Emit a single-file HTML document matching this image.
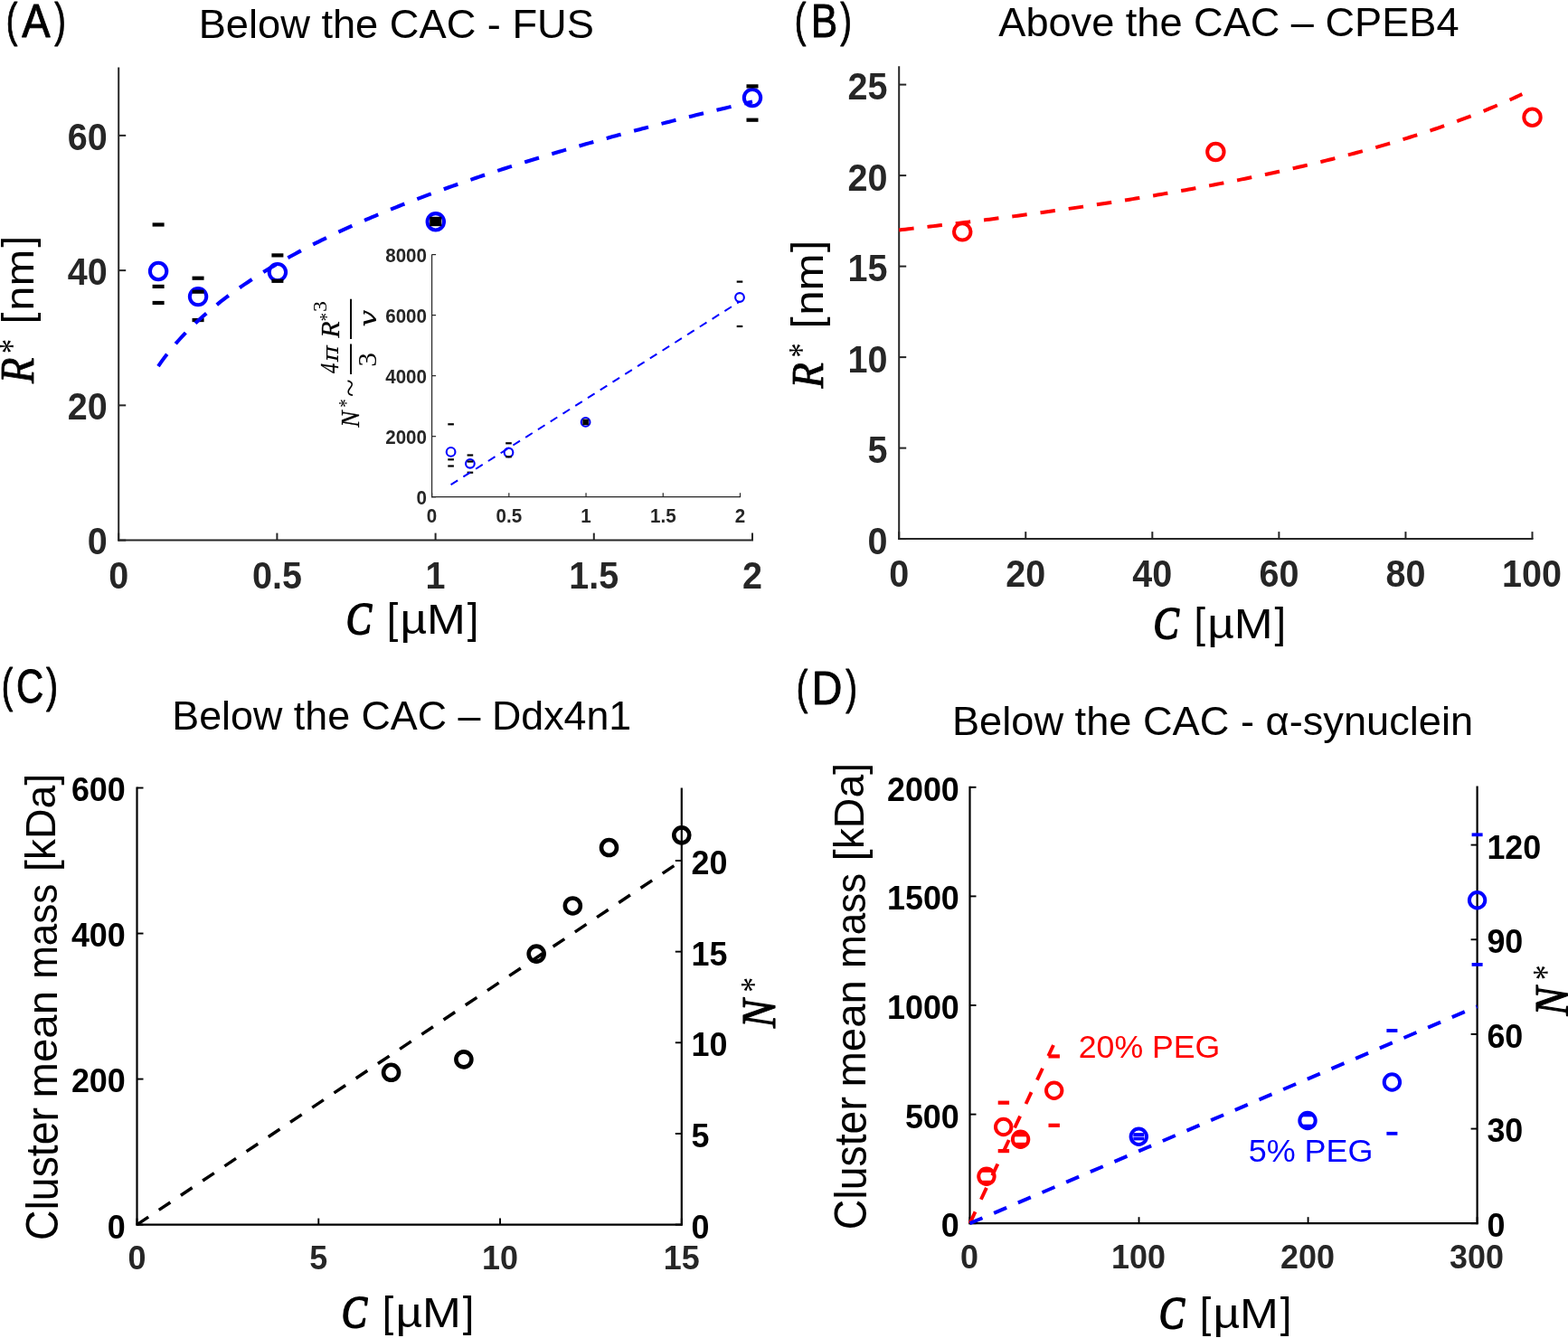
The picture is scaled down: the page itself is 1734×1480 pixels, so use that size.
<!DOCTYPE html>
<html><head><meta charset="utf-8"><title>figure</title>
<style>html,body{margin:0;padding:0;background:#fff}svg{display:block}</style></head>
<body>
<svg width="1734" height="1480" viewBox="0 0 1734 1480">
<rect width="1734" height="1480" fill="#fff"/>
<line x1="131.20" y1="74.50" x2="131.20" y2="598.60" stroke="#262626" stroke-width="2" />
<line x1="130.20" y1="597.60" x2="833.00" y2="597.60" stroke="#262626" stroke-width="2" />
<line x1="131.20" y1="597.60" x2="131.20" y2="589.60" stroke="#262626" stroke-width="2" />
<line x1="306.40" y1="597.60" x2="306.40" y2="589.60" stroke="#262626" stroke-width="2" />
<line x1="481.60" y1="597.60" x2="481.60" y2="589.60" stroke="#262626" stroke-width="2" />
<line x1="656.80" y1="597.60" x2="656.80" y2="589.60" stroke="#262626" stroke-width="2" />
<line x1="832.00" y1="597.60" x2="832.00" y2="589.60" stroke="#262626" stroke-width="2" />
<line x1="131.20" y1="597.60" x2="139.20" y2="597.60" stroke="#262626" stroke-width="2" />
<text transform="translate(118.60,613.40) scale(1.0,1.06)" text-anchor="end" font-family='"Liberation Sans", sans-serif' font-weight="bold" font-size="39.5" fill="#262626">0</text>
<line x1="131.20" y1="448.36" x2="139.20" y2="448.36" stroke="#262626" stroke-width="2" />
<text transform="translate(118.60,464.16) scale(1.0,1.06)" text-anchor="end" font-family='"Liberation Sans", sans-serif' font-weight="bold" font-size="39.5" fill="#262626">20</text>
<line x1="131.20" y1="299.12" x2="139.20" y2="299.12" stroke="#262626" stroke-width="2" />
<text transform="translate(118.60,314.92) scale(1.0,1.06)" text-anchor="end" font-family='"Liberation Sans", sans-serif' font-weight="bold" font-size="39.5" fill="#262626">40</text>
<line x1="131.20" y1="149.88" x2="139.20" y2="149.88" stroke="#262626" stroke-width="2" />
<text transform="translate(118.60,165.68) scale(1.0,1.06)" text-anchor="end" font-family='"Liberation Sans", sans-serif' font-weight="bold" font-size="39.5" fill="#262626">60</text>
<text transform="translate(131.20,651.20) scale(1.0,1.06)" text-anchor="middle" font-family='"Liberation Sans", sans-serif' font-weight="bold" font-size="39.5" fill="#262626">0</text>
<text transform="translate(306.40,651.20) scale(1.0,1.06)" text-anchor="middle" font-family='"Liberation Sans", sans-serif' font-weight="bold" font-size="39.5" fill="#262626">0.5</text>
<text transform="translate(481.60,651.20) scale(1.0,1.06)" text-anchor="middle" font-family='"Liberation Sans", sans-serif' font-weight="bold" font-size="39.5" fill="#262626">1</text>
<text transform="translate(656.80,651.20) scale(1.0,1.06)" text-anchor="middle" font-family='"Liberation Sans", sans-serif' font-weight="bold" font-size="39.5" fill="#262626">1.5</text>
<text transform="translate(832.00,651.20) scale(1.0,1.06)" text-anchor="middle" font-family='"Liberation Sans", sans-serif' font-weight="bold" font-size="39.5" fill="#262626">2</text>
<circle cx="175.10" cy="300.00" r="9.2" fill="none" stroke="#0000ff" stroke-width="4.05"/>
<circle cx="219.05" cy="328.10" r="9.2" fill="none" stroke="#0000ff" stroke-width="4.05"/>
<circle cx="306.90" cy="301.10" r="9.2" fill="none" stroke="#0000ff" stroke-width="4.05"/>
<circle cx="481.80" cy="245.30" r="9.2" fill="none" stroke="#0000ff" stroke-width="4.05"/>
<circle cx="832.00" cy="108.10" r="9.2" fill="none" stroke="#0000ff" stroke-width="4.05"/>
<rect x="168.60" y="246.40" width="13" height="4.2" fill="#000"/>
<rect x="168.60" y="314.80" width="13" height="4.2" fill="#000"/>
<rect x="168.60" y="332.90" width="13" height="4.2" fill="#000"/>
<rect x="212.55" y="305.60" width="13" height="4.2" fill="#000"/>
<rect x="212.55" y="320.60" width="13" height="4.2" fill="#000"/>
<rect x="212.55" y="351.95" width="13" height="4.2" fill="#000"/>
<rect x="300.40" y="280.30" width="13" height="4.2" fill="#000"/>
<rect x="300.40" y="308.70" width="13" height="4.2" fill="#000"/>
<rect x="825.50" y="93.30" width="13" height="4.2" fill="#000"/>
<rect x="825.50" y="130.60" width="13" height="4.2" fill="#000"/>
<rect x="475.2" y="239.8" width="13.1" height="10.4" fill="#000"/>
<path d="M175.00,405.08 L178.28,400.38 L181.57,395.90 L184.85,391.61 L188.14,387.49 L191.42,383.52 L194.71,379.70 L197.99,376.00 L201.28,372.43 L204.56,368.96 L207.85,365.60 L211.13,362.33 L214.42,359.15 L217.70,356.06 L220.99,353.04 L224.27,350.09 L227.56,347.21 L230.84,344.40 L234.13,341.64 L237.41,338.95 L240.70,336.31 L243.98,333.72 L247.27,331.19 L250.55,328.70 L253.84,326.25 L257.12,323.85 L260.41,321.49 L263.69,319.17 L266.98,316.89 L270.26,314.64 L273.55,312.43 L276.83,310.25 L280.12,308.11 L283.40,306.00 L286.69,303.91 L289.97,301.86 L293.26,299.83 L296.54,297.84 L299.83,295.86 L303.12,293.92 L306.40,291.99 L309.68,290.10 L312.97,288.22 L316.25,286.37 L319.54,284.54 L322.82,282.73 L326.11,280.94 L329.39,279.17 L332.68,277.42 L335.96,275.69 L339.25,273.98 L342.53,272.28 L345.82,270.61 L349.10,268.95 L352.39,267.30 L355.67,265.68 L358.96,264.06 L362.25,262.47 L365.53,260.89 L368.81,259.32 L372.10,257.77 L375.38,256.23 L378.67,254.71 L381.95,253.20 L385.24,251.70 L388.52,250.22 L391.81,248.74 L395.09,247.28 L398.38,245.84 L401.66,244.40 L404.95,242.98 L408.23,241.56 L411.52,240.16 L414.80,238.77 L418.09,237.39 L421.37,236.02 L424.66,234.66 L427.94,233.31 L431.23,231.97 L434.51,230.64 L437.80,229.32 L441.08,228.01 L444.37,226.71 L447.65,225.42 L450.94,224.14 L454.22,222.86 L457.51,221.59 L460.79,220.34 L464.08,219.09 L467.36,217.85 L470.65,216.61 L473.94,215.39 L477.22,214.17 L480.50,212.96 L483.79,211.76 L487.07,210.57 L490.36,209.38 L493.64,208.20 L496.93,207.03 L500.21,205.86 L503.50,204.70 L506.78,203.55 L510.07,202.40 L513.36,201.26 L516.64,200.13 L519.92,199.01 L523.21,197.89 L526.50,196.77 L529.78,195.67 L533.07,194.56 L536.35,193.47 L539.63,192.38 L542.92,191.30 L546.20,190.22 L549.49,189.15 L552.77,188.08 L556.06,187.02 L559.35,185.96 L562.63,184.91 L565.91,183.87 L569.20,182.83 L572.48,181.79 L575.77,180.77 L579.05,179.74 L582.34,178.72 L585.62,177.71 L588.91,176.70 L592.19,175.69 L595.48,174.69 L598.76,173.70 L602.05,172.71 L605.33,171.72 L608.62,170.74 L611.90,169.76 L615.19,168.79 L618.47,167.82 L621.76,166.86 L625.04,165.90 L628.33,164.95 L631.62,164.00 L634.90,163.05 L638.18,162.11 L641.47,161.17 L644.75,160.23 L648.04,159.30 L651.33,158.38 L654.61,157.45 L657.89,156.53 L661.18,155.62 L664.46,154.71 L667.75,153.80 L671.03,152.90 L674.32,152.00 L677.61,151.10 L680.89,150.21 L684.17,149.32 L687.46,148.43 L690.74,147.55 L694.03,146.67 L697.32,145.79 L700.60,144.92 L703.88,144.05 L707.17,143.19 L710.45,142.33 L713.74,141.47 L717.02,140.61 L720.31,139.76 L723.60,138.91 L726.88,138.06 L730.16,137.22 L733.45,136.38 L736.73,135.54 L740.02,134.71 L743.30,133.88 L746.59,133.05 L749.88,132.22 L753.16,131.40 L756.44,130.58 L759.73,129.77 L763.01,128.95 L766.30,128.14 L769.58,127.33 L772.87,126.53 L776.15,125.73 L779.44,124.93 L782.72,124.13 L786.01,123.33 L789.30,122.54 L792.58,121.75 L795.87,120.97 L799.15,120.18 L802.43,119.40 L805.72,118.62 L809.00,117.85 L812.29,117.07 L815.58,116.30 L818.86,115.53 L822.14,114.77 L825.43,114.00 L828.71,113.24 L832.00,112.48" fill="none" stroke="#0000ff" stroke-width="4.1" stroke-dasharray="16.5 14.93" />
<line x1="477.60" y1="281.60" x2="477.60" y2="550.30" stroke="#262626" stroke-width="1.2" />
<line x1="477.00" y1="549.70" x2="819.10" y2="549.70" stroke="#262626" stroke-width="1.2" />
<line x1="477.60" y1="549.70" x2="477.60" y2="545.20" stroke="#262626" stroke-width="1.2" />
<line x1="562.83" y1="549.70" x2="562.83" y2="545.20" stroke="#262626" stroke-width="1.2" />
<line x1="648.05" y1="549.70" x2="648.05" y2="545.20" stroke="#262626" stroke-width="1.2" />
<line x1="733.27" y1="549.70" x2="733.27" y2="545.20" stroke="#262626" stroke-width="1.2" />
<line x1="818.50" y1="549.70" x2="818.50" y2="545.20" stroke="#262626" stroke-width="1.2" />
<line x1="477.60" y1="549.70" x2="482.10" y2="549.70" stroke="#262626" stroke-width="1.2" />
<text transform="translate(472.00,558.10) scale(1.0,1.06)" text-anchor="end" font-family='"Liberation Sans", sans-serif' font-weight="bold" font-size="20.6" fill="#262626">0</text>
<line x1="477.60" y1="482.68" x2="482.10" y2="482.68" stroke="#262626" stroke-width="1.2" />
<text transform="translate(472.00,491.08) scale(1.0,1.06)" text-anchor="end" font-family='"Liberation Sans", sans-serif' font-weight="bold" font-size="20.6" fill="#262626">2000</text>
<line x1="477.60" y1="415.65" x2="482.10" y2="415.65" stroke="#262626" stroke-width="1.2" />
<text transform="translate(472.00,424.05) scale(1.0,1.06)" text-anchor="end" font-family='"Liberation Sans", sans-serif' font-weight="bold" font-size="20.6" fill="#262626">4000</text>
<line x1="477.60" y1="348.62" x2="482.10" y2="348.62" stroke="#262626" stroke-width="1.2" />
<text transform="translate(472.00,357.02) scale(1.0,1.06)" text-anchor="end" font-family='"Liberation Sans", sans-serif' font-weight="bold" font-size="20.6" fill="#262626">6000</text>
<line x1="477.60" y1="281.60" x2="482.10" y2="281.60" stroke="#262626" stroke-width="1.2" />
<text transform="translate(472.00,290.00) scale(1.0,1.06)" text-anchor="end" font-family='"Liberation Sans", sans-serif' font-weight="bold" font-size="20.6" fill="#262626">8000</text>
<text transform="translate(477.60,578.20) scale(1.0,1.06)" text-anchor="middle" font-family='"Liberation Sans", sans-serif' font-weight="bold" font-size="20.6" fill="#262626">0</text>
<text transform="translate(562.83,578.20) scale(1.0,1.06)" text-anchor="middle" font-family='"Liberation Sans", sans-serif' font-weight="bold" font-size="20.6" fill="#262626">0.5</text>
<text transform="translate(648.05,578.20) scale(1.0,1.06)" text-anchor="middle" font-family='"Liberation Sans", sans-serif' font-weight="bold" font-size="20.6" fill="#262626">1</text>
<text transform="translate(733.27,578.20) scale(1.0,1.06)" text-anchor="middle" font-family='"Liberation Sans", sans-serif' font-weight="bold" font-size="20.6" fill="#262626">1.5</text>
<text transform="translate(818.50,578.20) scale(1.0,1.06)" text-anchor="middle" font-family='"Liberation Sans", sans-serif' font-weight="bold" font-size="20.6" fill="#262626">2</text>
<circle cx="498.60" cy="499.90" r="4.85" fill="none" stroke="#0000ff" stroke-width="2.1"/>
<circle cx="519.90" cy="512.80" r="4.85" fill="none" stroke="#0000ff" stroke-width="2.1"/>
<circle cx="562.50" cy="500.50" r="4.85" fill="none" stroke="#0000ff" stroke-width="2.1"/>
<circle cx="647.60" cy="466.90" r="4.85" fill="none" stroke="#0000ff" stroke-width="2.1"/>
<circle cx="818.00" cy="329.00" r="4.85" fill="none" stroke="#0000ff" stroke-width="2.1"/>
<rect x="495.30" y="468.20" width="6.6" height="2.2" fill="#000"/>
<rect x="495.30" y="507.20" width="6.6" height="2.2" fill="#000"/>
<rect x="495.30" y="514.40" width="6.6" height="2.2" fill="#000"/>
<rect x="516.60" y="502.40" width="6.6" height="2.2" fill="#000"/>
<rect x="516.60" y="509.40" width="6.6" height="2.2" fill="#000"/>
<rect x="516.60" y="521.60" width="6.6" height="2.2" fill="#000"/>
<rect x="559.20" y="489.20" width="6.6" height="2.2" fill="#000"/>
<rect x="559.20" y="504.20" width="6.6" height="2.2" fill="#000"/>
<rect x="814.70" y="310.50" width="6.6" height="2.2" fill="#000"/>
<rect x="814.70" y="359.90" width="6.6" height="2.2" fill="#000"/>
<rect x="644.3" y="463.6" width="6.6" height="6.6" fill="#000"/>
<path d="M498.60,536.20 L818.00,333.50" fill="none" stroke="#0000ff" stroke-width="2.0" stroke-dasharray="9 7.3" />
<text transform="translate(396.70,472.73) rotate(-90) scale(0.2740,0.3030)" font-family='"Liberation Serif", serif' font-weight="normal" font-style="italic" font-size="100" fill="#000" stroke="#000" stroke-width="1.0" stroke-linejoin="round">N</text>
<text transform="translate(390.44,450.64) rotate(-90) scale(0.1875,0.2222)" font-family='"Liberation Serif", serif' font-weight="normal" font-style="normal" font-size="100" fill="#000">*</text>
<text transform="translate(398.26,438.88) rotate(-90) scale(0.3604,0.3235)" font-family='"Liberation Serif", serif' font-weight="normal" font-style="normal" font-size="100" fill="#000">~</text>
<text transform="translate(374.01,413.00) rotate(-90) scale(0.2250,0.2939)" font-family='"Liberation Serif", serif' font-weight="normal" font-style="italic" font-size="100" fill="#000" stroke="#000" stroke-width="1.0" stroke-linejoin="round">4</text>
<text transform="translate(374.30,400.22) rotate(-90) scale(0.2779,0.2431)" font-family='"DejaVu Serif", serif' font-weight="normal" font-style="italic" font-size="100" fill="#000">π</text>
<text transform="translate(416.20,405.87) rotate(-90) scale(0.3146,0.3030)" font-family='"Liberation Serif", serif' font-weight="normal" font-style="normal" font-size="100" fill="#000">3</text>
<text transform="translate(374.60,373.70) rotate(-90) scale(0.3000,0.2955)" font-family='"Liberation Serif", serif' font-weight="normal" font-style="italic" font-size="100" fill="#000" stroke="#000" stroke-width="1.0" stroke-linejoin="round">R</text>
<text transform="translate(368.02,355.55) rotate(-90) scale(0.1900,0.2111)" font-family='"Liberation Serif", serif' font-weight="normal" font-style="normal" font-size="100" fill="#000">*</text>
<text transform="translate(360.59,345.00) rotate(-90) scale(0.2390,0.2121)" font-family='"Liberation Serif", serif' font-weight="normal" font-style="normal" font-size="100" fill="#000">3</text>
<text transform="translate(416.00,361.86) rotate(-90) scale(0.3392,0.2667)" font-family='"DejaVu Serif", serif' font-weight="normal" font-style="italic" font-size="100" fill="#000">v</text>
<line x1="388.00" y1="380.50" x2="388.00" y2="414.00" stroke="#000" stroke-width="2" />
<line x1="388.00" y1="330.80" x2="388.00" y2="375.10" stroke="#000" stroke-width="2" />
<text transform="translate(6.75,40.40) scale(0.3804,0.5229)" font-family='"Liberation Sans", sans-serif' font-weight="normal" font-style="normal" font-size="100" fill="#000" stroke="#000" stroke-width="1.8" stroke-linejoin="round">(</text>
<text transform="translate(24.37,41.48) scale(0.4691,0.5225)" font-family='"Liberation Sans", sans-serif' font-weight="normal" font-style="normal" font-size="100" fill="#000" stroke="#000" stroke-width="1.8" stroke-linejoin="round">A</text>
<text transform="translate(60.30,40.40) scale(0.3786,0.5229)" font-family='"Liberation Sans", sans-serif' font-weight="normal" font-style="normal" font-size="100" fill="#000" stroke="#000" stroke-width="1.8" stroke-linejoin="round">)</text>
<text transform="translate(219.68,41.80) scale(0.4523)" font-family='"Liberation Sans", sans-serif' font-weight="normal" font-style="normal" font-size="100" fill="#000">Below the CAC - FUS</text>
<text transform="translate(382.71,701.07) scale(0.4215,0.5114)" font-family='"Liberation Serif", serif' font-weight="normal" font-style="italic" font-size="100" fill="#000" stroke="#000" stroke-width="3.8" stroke-linejoin="round">C</text>
<text transform="translate(427.65,700.27) scale(0.4500,0.4585)" font-family='"Liberation Sans", sans-serif' font-weight="normal" font-style="normal" font-size="100" fill="#000">[</text>
<text transform="translate(442.40,701.26) scale(0.5143,0.4589)" font-family='"Liberation Sans", sans-serif' font-weight="normal" font-style="normal" font-size="100" fill="#000">µM</text>
<text transform="translate(516.65,700.27) scale(0.4500,0.4585)" font-family='"Liberation Sans", sans-serif' font-weight="normal" font-style="normal" font-size="100" fill="#000">]</text>
<text transform="translate(35.25,273.55) rotate(-90) scale(0.4525,0.4644)" font-family='"Liberation Sans", sans-serif' font-weight="normal" font-style="normal" font-size="100" fill="#000">]</text>
<text transform="translate(37.20,343.72) rotate(-90) scale(0.4888,0.4519)" font-family='"Liberation Sans", sans-serif' font-weight="normal" font-style="normal" font-size="100" fill="#000">nm</text>
<text transform="translate(35.25,358.25) rotate(-90) scale(0.4500,0.4644)" font-family='"Liberation Sans", sans-serif' font-weight="normal" font-style="normal" font-size="100" fill="#000">[</text>
<text transform="translate(25.64,390.90) rotate(-90) scale(0.3200,0.3944)" font-family='"Liberation Serif", serif' font-weight="normal" font-style="normal" font-size="100" fill="#000">*</text>
<text transform="translate(37.28,424.03) rotate(-90) scale(0.4656,0.5239)" font-family='"Liberation Serif", serif' font-weight="normal" font-style="italic" font-size="100" fill="#000" stroke="#000" stroke-width="1.6" stroke-linejoin="round">R</text>
<line x1="994.20" y1="73.20" x2="994.20" y2="597.10" stroke="#262626" stroke-width="2" />
<line x1="993.20" y1="596.10" x2="1695.50" y2="596.10" stroke="#262626" stroke-width="2" />
<line x1="994.20" y1="596.10" x2="994.20" y2="588.10" stroke="#262626" stroke-width="2" />
<text transform="translate(994.20,649.20) scale(1.0,1.06)" text-anchor="middle" font-family='"Liberation Sans", sans-serif' font-weight="bold" font-size="39.5" fill="#262626">0</text>
<line x1="1134.26" y1="596.10" x2="1134.26" y2="588.10" stroke="#262626" stroke-width="2" />
<text transform="translate(1134.26,649.20) scale(1.0,1.06)" text-anchor="middle" font-family='"Liberation Sans", sans-serif' font-weight="bold" font-size="39.5" fill="#262626">20</text>
<line x1="1274.32" y1="596.10" x2="1274.32" y2="588.10" stroke="#262626" stroke-width="2" />
<text transform="translate(1274.32,649.20) scale(1.0,1.06)" text-anchor="middle" font-family='"Liberation Sans", sans-serif' font-weight="bold" font-size="39.5" fill="#262626">40</text>
<line x1="1414.38" y1="596.10" x2="1414.38" y2="588.10" stroke="#262626" stroke-width="2" />
<text transform="translate(1414.38,649.20) scale(1.0,1.06)" text-anchor="middle" font-family='"Liberation Sans", sans-serif' font-weight="bold" font-size="39.5" fill="#262626">60</text>
<line x1="1554.44" y1="596.10" x2="1554.44" y2="588.10" stroke="#262626" stroke-width="2" />
<text transform="translate(1554.44,649.20) scale(1.0,1.06)" text-anchor="middle" font-family='"Liberation Sans", sans-serif' font-weight="bold" font-size="39.5" fill="#262626">80</text>
<line x1="1694.50" y1="596.10" x2="1694.50" y2="588.10" stroke="#262626" stroke-width="2" />
<text transform="translate(1694.00,649.20) scale(1.0,1.06)" text-anchor="middle" font-family='"Liberation Sans", sans-serif' font-weight="bold" font-size="39.5" fill="#262626">100</text>
<line x1="994.20" y1="596.10" x2="1002.20" y2="596.10" stroke="#262626" stroke-width="2" />
<text transform="translate(981.50,612.70) scale(1.0,1.06)" text-anchor="end" font-family='"Liberation Sans", sans-serif' font-weight="bold" font-size="39.5" fill="#262626">0</text>
<line x1="994.20" y1="495.60" x2="1002.20" y2="495.60" stroke="#262626" stroke-width="2" />
<text transform="translate(981.50,512.20) scale(1.0,1.06)" text-anchor="end" font-family='"Liberation Sans", sans-serif' font-weight="bold" font-size="39.5" fill="#262626">5</text>
<line x1="994.20" y1="395.10" x2="1002.20" y2="395.10" stroke="#262626" stroke-width="2" />
<text transform="translate(981.50,411.70) scale(1.0,1.06)" text-anchor="end" font-family='"Liberation Sans", sans-serif' font-weight="bold" font-size="39.5" fill="#262626">10</text>
<line x1="994.20" y1="294.60" x2="1002.20" y2="294.60" stroke="#262626" stroke-width="2" />
<text transform="translate(981.50,311.20) scale(1.0,1.06)" text-anchor="end" font-family='"Liberation Sans", sans-serif' font-weight="bold" font-size="39.5" fill="#262626">15</text>
<line x1="994.20" y1="194.10" x2="1002.20" y2="194.10" stroke="#262626" stroke-width="2" />
<text transform="translate(981.50,210.70) scale(1.0,1.06)" text-anchor="end" font-family='"Liberation Sans", sans-serif' font-weight="bold" font-size="39.5" fill="#262626">20</text>
<line x1="994.20" y1="93.60" x2="1002.20" y2="93.60" stroke="#262626" stroke-width="2" />
<text transform="translate(981.50,110.20) scale(1.0,1.06)" text-anchor="end" font-family='"Liberation Sans", sans-serif' font-weight="bold" font-size="39.5" fill="#262626">25</text>
<circle cx="1064.23" cy="256.41" r="9.2" fill="none" stroke="#ff0000" stroke-width="4.0"/>
<circle cx="1344.35" cy="167.97" r="9.2" fill="none" stroke="#ff0000" stroke-width="4.0"/>
<circle cx="1694.50" cy="129.78" r="9.2" fill="none" stroke="#ff0000" stroke-width="4.0"/>
<path d="M994.20,254.40 L997.65,254.02 L1001.09,253.64 L1004.54,253.26 L1007.98,252.87 L1011.43,252.49 L1014.87,252.10 L1018.32,251.71 L1021.76,251.32 L1025.21,250.92 L1028.65,250.53 L1032.10,250.13 L1035.55,249.73 L1038.99,249.33 L1042.44,248.93 L1045.88,248.52 L1049.33,248.12 L1052.77,247.71 L1056.22,247.30 L1059.66,246.89 L1063.11,246.47 L1066.55,246.06 L1070.00,245.64 L1073.45,245.22 L1076.89,244.80 L1080.34,244.37 L1083.78,243.95 L1087.23,243.52 L1090.67,243.09 L1094.12,242.66 L1097.56,242.22 L1101.01,241.78 L1104.46,241.35 L1107.90,240.91 L1111.35,240.46 L1114.79,240.02 L1118.24,239.57 L1121.68,239.12 L1125.13,238.67 L1128.57,238.21 L1132.02,237.76 L1135.46,237.30 L1138.91,236.83 L1142.36,236.37 L1145.80,235.90 L1149.25,235.44 L1152.69,234.96 L1156.14,234.49 L1159.58,234.01 L1163.03,233.54 L1166.47,233.05 L1169.92,232.57 L1173.36,232.08 L1176.81,231.60 L1180.26,231.10 L1183.70,230.61 L1187.15,230.11 L1190.59,229.61 L1194.04,229.11 L1197.48,228.61 L1200.93,228.10 L1204.37,227.59 L1207.82,227.07 L1211.26,226.56 L1214.71,226.04 L1218.16,225.51 L1221.60,224.99 L1225.05,224.46 L1228.49,223.93 L1231.94,223.40 L1235.38,222.86 L1238.83,222.32 L1242.27,221.77 L1245.72,221.23 L1249.17,220.68 L1252.61,220.12 L1256.06,219.57 L1259.50,219.01 L1262.95,218.44 L1266.39,217.88 L1269.84,217.31 L1273.28,216.73 L1276.73,216.16 L1280.17,215.58 L1283.62,214.99 L1287.07,214.40 L1290.51,213.81 L1293.96,213.22 L1297.40,212.62 L1300.85,212.02 L1304.29,211.41 L1307.74,210.80 L1311.18,210.19 L1314.63,209.57 L1318.07,208.95 L1321.52,208.32 L1324.97,207.69 L1328.41,207.05 L1331.86,206.42 L1335.30,205.77 L1338.75,205.13 L1342.19,204.48 L1345.64,203.82 L1349.08,203.16 L1352.53,202.50 L1355.97,201.83 L1359.42,201.15 L1362.87,200.48 L1366.31,199.79 L1369.76,199.11 L1373.20,198.41 L1376.65,197.72 L1380.09,197.01 L1383.54,196.31 L1386.98,195.59 L1390.43,194.88 L1393.88,194.16 L1397.32,193.43 L1400.77,192.69 L1404.21,191.96 L1407.66,191.21 L1411.10,190.46 L1414.55,189.71 L1417.99,188.95 L1421.44,188.18 L1424.88,187.41 L1428.33,186.63 L1431.78,185.85 L1435.22,185.06 L1438.67,184.26 L1442.11,183.46 L1445.56,182.65 L1449.00,181.84 L1452.45,181.02 L1455.89,180.19 L1459.34,179.35 L1462.78,178.51 L1466.23,177.67 L1469.68,176.81 L1473.12,175.95 L1476.57,175.08 L1480.01,174.20 L1483.46,173.32 L1486.90,172.43 L1490.35,171.53 L1493.79,170.62 L1497.24,169.71 L1500.68,168.79 L1504.13,167.86 L1507.58,166.92 L1511.02,165.97 L1514.47,165.02 L1517.91,164.05 L1521.36,163.08 L1524.80,162.10 L1528.25,161.11 L1531.69,160.11 L1535.14,159.10 L1538.59,158.09 L1542.03,157.06 L1545.48,156.02 L1548.92,154.98 L1552.37,153.92 L1555.81,152.85 L1559.26,151.77 L1562.70,150.69 L1566.15,149.59 L1569.59,148.48 L1573.04,147.36 L1576.49,146.23 L1579.93,145.08 L1583.38,143.93 L1586.82,142.76 L1590.27,141.58 L1593.71,140.39 L1597.16,139.19 L1600.60,137.97 L1604.05,136.74 L1607.49,135.49 L1610.94,134.24 L1614.39,132.97 L1617.83,131.68 L1621.28,130.38 L1624.72,129.07 L1628.17,127.74 L1631.61,126.40 L1635.06,125.04 L1638.50,123.66 L1641.95,122.27 L1645.39,120.86 L1648.84,119.43 L1652.29,117.99 L1655.73,116.53 L1659.18,115.05 L1662.62,113.56 L1666.07,112.04 L1669.51,110.51 L1672.96,108.95 L1676.40,107.38 L1679.85,105.78 L1683.30,104.17" fill="none" stroke="#ff0000" stroke-width="4" stroke-dasharray="16.5 15" />
<text transform="translate(878.65,39.52) scale(0.3804,0.5219)" font-family='"Liberation Sans", sans-serif' font-weight="normal" font-style="normal" font-size="100" fill="#000" stroke="#000" stroke-width="1.8" stroke-linejoin="round">(</text>
<text transform="translate(896.81,40.67) scale(0.4418,0.5254)" font-family='"Liberation Sans", sans-serif' font-weight="normal" font-style="normal" font-size="100" fill="#000" stroke="#000" stroke-width="1.8" stroke-linejoin="round">B</text>
<text transform="translate(929.30,39.52) scale(0.3804,0.5219)" font-family='"Liberation Sans", sans-serif' font-weight="normal" font-style="normal" font-size="100" fill="#000" stroke="#000" stroke-width="1.8" stroke-linejoin="round">)</text>
<text transform="translate(1104.30,40.00) scale(0.4513)" font-family='"Liberation Sans", sans-serif' font-weight="normal" font-style="normal" font-size="100" fill="#000">Above the CAC – CPEB4</text>
<text transform="translate(1275.51,706.07) scale(0.4215,0.5114)" font-family='"Liberation Serif", serif' font-weight="normal" font-style="italic" font-size="100" fill="#000" stroke="#000" stroke-width="3.8" stroke-linejoin="round">C</text>
<text transform="translate(1320.45,705.27) scale(0.4500,0.4585)" font-family='"Liberation Sans", sans-serif' font-weight="normal" font-style="normal" font-size="100" fill="#000">[</text>
<text transform="translate(1335.20,706.26) scale(0.5143,0.4589)" font-family='"Liberation Sans", sans-serif' font-weight="normal" font-style="normal" font-size="100" fill="#000">µM</text>
<text transform="translate(1409.45,705.27) scale(0.4500,0.4585)" font-family='"Liberation Sans", sans-serif' font-weight="normal" font-style="normal" font-size="100" fill="#000">]</text>
<text transform="translate(908.34,278.97) rotate(-90) scale(0.4725,0.4649)" font-family='"Liberation Sans", sans-serif' font-weight="normal" font-style="normal" font-size="100" fill="#000">]</text>
<text transform="translate(910.20,348.84) rotate(-90) scale(0.4920,0.4500)" font-family='"Liberation Sans", sans-serif' font-weight="normal" font-style="normal" font-size="100" fill="#000">nm</text>
<text transform="translate(908.34,363.22) rotate(-90) scale(0.4600,0.4649)" font-family='"Liberation Sans", sans-serif' font-weight="normal" font-style="normal" font-size="100" fill="#000">[</text>
<text transform="translate(898.74,395.60) rotate(-90) scale(0.3200,0.3944)" font-family='"Liberation Serif", serif' font-weight="normal" font-style="normal" font-size="100" fill="#000">*</text>
<text transform="translate(909.69,429.43) rotate(-90) scale(0.4656,0.5134)" font-family='"Liberation Serif", serif' font-weight="normal" font-style="italic" font-size="100" fill="#000" stroke="#000" stroke-width="1.6" stroke-linejoin="round">R</text>
<line x1="151.50" y1="870.50" x2="151.50" y2="1355.60" stroke="#000" stroke-width="2.2" />
<line x1="150.50" y1="1354.60" x2="754.80" y2="1354.60" stroke="#000" stroke-width="2.2" />
<line x1="753.80" y1="871.50" x2="753.80" y2="1355.60" stroke="#000" stroke-width="2.2" />
<line x1="151.50" y1="1354.60" x2="151.50" y2="1347.60" stroke="#000" stroke-width="1.9" />
<text transform="translate(151.50,1403.80) scale(1.0,1.05)" text-anchor="middle" font-family='"Liberation Sans", sans-serif' font-weight="bold" font-size="35.9" fill="#262626">0</text>
<line x1="352.27" y1="1354.60" x2="352.27" y2="1347.60" stroke="#000" stroke-width="1.9" />
<text transform="translate(352.27,1403.80) scale(1.0,1.05)" text-anchor="middle" font-family='"Liberation Sans", sans-serif' font-weight="bold" font-size="35.9" fill="#262626">5</text>
<line x1="553.03" y1="1354.60" x2="553.03" y2="1347.60" stroke="#000" stroke-width="1.9" />
<text transform="translate(553.03,1403.80) scale(1.0,1.05)" text-anchor="middle" font-family='"Liberation Sans", sans-serif' font-weight="bold" font-size="35.9" fill="#262626">10</text>
<line x1="753.80" y1="1354.60" x2="753.80" y2="1347.60" stroke="#000" stroke-width="1.9" />
<text transform="translate(753.80,1403.80) scale(1.0,1.05)" text-anchor="middle" font-family='"Liberation Sans", sans-serif' font-weight="bold" font-size="35.9" fill="#262626">15</text>
<line x1="151.50" y1="1354.60" x2="158.50" y2="1354.60" stroke="#000" stroke-width="1.9" />
<text transform="translate(138.80,1369.50) scale(1.0,1.05)" text-anchor="end" font-family='"Liberation Sans", sans-serif' font-weight="bold" font-size="35.9" fill="#000">0</text>
<line x1="151.50" y1="1193.57" x2="158.50" y2="1193.57" stroke="#000" stroke-width="1.9" />
<text transform="translate(138.80,1208.47) scale(1.0,1.05)" text-anchor="end" font-family='"Liberation Sans", sans-serif' font-weight="bold" font-size="35.9" fill="#000">200</text>
<line x1="151.50" y1="1032.53" x2="158.50" y2="1032.53" stroke="#000" stroke-width="1.9" />
<text transform="translate(138.80,1047.43) scale(1.0,1.05)" text-anchor="end" font-family='"Liberation Sans", sans-serif' font-weight="bold" font-size="35.9" fill="#000">400</text>
<line x1="151.50" y1="871.50" x2="158.50" y2="871.50" stroke="#000" stroke-width="1.9" />
<text transform="translate(138.80,886.40) scale(1.0,1.05)" text-anchor="end" font-family='"Liberation Sans", sans-serif' font-weight="bold" font-size="35.9" fill="#000">600</text>
<line x1="753.80" y1="1354.60" x2="746.80" y2="1354.60" stroke="#000" stroke-width="1.9" />
<text transform="translate(764.50,1369.50) scale(1.0,1.05)" text-anchor="start" font-family='"Liberation Sans", sans-serif' font-weight="bold" font-size="35.9" fill="#000">0</text>
<line x1="753.80" y1="1253.95" x2="746.80" y2="1253.95" stroke="#000" stroke-width="1.9" />
<text transform="translate(764.50,1268.85) scale(1.0,1.05)" text-anchor="start" font-family='"Liberation Sans", sans-serif' font-weight="bold" font-size="35.9" fill="#000">5</text>
<line x1="753.80" y1="1153.30" x2="746.80" y2="1153.30" stroke="#000" stroke-width="1.9" />
<text transform="translate(764.50,1168.20) scale(1.0,1.05)" text-anchor="start" font-family='"Liberation Sans", sans-serif' font-weight="bold" font-size="35.9" fill="#000">10</text>
<line x1="753.80" y1="1052.65" x2="746.80" y2="1052.65" stroke="#000" stroke-width="1.9" />
<text transform="translate(764.50,1067.55) scale(1.0,1.05)" text-anchor="start" font-family='"Liberation Sans", sans-serif' font-weight="bold" font-size="35.9" fill="#000">15</text>
<line x1="753.80" y1="952.00" x2="746.80" y2="952.00" stroke="#000" stroke-width="1.9" />
<text transform="translate(764.50,966.90) scale(1.0,1.05)" text-anchor="start" font-family='"Liberation Sans", sans-serif' font-weight="bold" font-size="35.9" fill="#000">20</text>
<circle cx="432.57" cy="1186.32" r="8.5" fill="none" stroke="#000" stroke-width="4.6"/>
<circle cx="512.88" cy="1171.83" r="8.5" fill="none" stroke="#000" stroke-width="4.6"/>
<circle cx="593.19" cy="1055.08" r="8.5" fill="none" stroke="#000" stroke-width="4.6"/>
<circle cx="633.34" cy="1001.94" r="8.5" fill="none" stroke="#000" stroke-width="4.6"/>
<circle cx="673.49" cy="937.52" r="8.5" fill="none" stroke="#000" stroke-width="4.6"/>
<circle cx="753.80" cy="923.84" r="8.5" fill="none" stroke="#000" stroke-width="4.6"/>
<path d="M151.50,1354.60 L753.80,952.02" fill="none" stroke="#000" stroke-width="3.5" stroke-dasharray="15.2 13.93" />
<text transform="translate(1.87,776.37) scale(0.3768,0.5240)" font-family='"Liberation Sans", sans-serif' font-weight="normal" font-style="normal" font-size="100" fill="#000" stroke="#000" stroke-width="1.8" stroke-linejoin="round">(</text>
<text transform="translate(17.93,777.46) scale(0.4185,0.5205)" font-family='"Liberation Sans", sans-serif' font-weight="normal" font-style="normal" font-size="100" fill="#000" stroke="#000" stroke-width="1.8" stroke-linejoin="round">C</text>
<text transform="translate(51.00,776.37) scale(0.3929,0.5240)" font-family='"Liberation Sans", sans-serif' font-weight="normal" font-style="normal" font-size="100" fill="#000" stroke="#000" stroke-width="1.8" stroke-linejoin="round">)</text>
<text transform="translate(190.32,806.80) scale(0.4480)" font-family='"Liberation Sans", sans-serif' font-weight="normal" font-style="normal" font-size="100" fill="#000">Below the CAC – Ddx4n1</text>
<text transform="translate(377.71,1467.97) scale(0.4215,0.5114)" font-family='"Liberation Serif", serif' font-weight="normal" font-style="italic" font-size="100" fill="#000" stroke="#000" stroke-width="3.8" stroke-linejoin="round">C</text>
<text transform="translate(422.65,1467.17) scale(0.4500,0.4585)" font-family='"Liberation Sans", sans-serif' font-weight="normal" font-style="normal" font-size="100" fill="#000">[</text>
<text transform="translate(437.40,1468.16) scale(0.5143,0.4589)" font-family='"Liberation Sans", sans-serif' font-weight="normal" font-style="normal" font-size="100" fill="#000">µM</text>
<text transform="translate(511.65,1467.17) scale(0.4500,0.4585)" font-family='"Liberation Sans", sans-serif' font-weight="normal" font-style="normal" font-size="100" fill="#000">]</text>
<text transform="translate(63.81,1372.02) rotate(-90) scale(0.4645,0.4932)" font-family='"Liberation Sans", sans-serif' font-weight="normal" font-style="normal" font-size="100" fill="#000">Cluster</text>
<text transform="translate(63.35,1214.42) rotate(-90) scale(0.4738,0.4545)" font-family='"Liberation Sans", sans-serif' font-weight="normal" font-style="normal" font-size="100" fill="#000">mean</text>
<text transform="translate(63.35,1082.78) rotate(-90) scale(0.4399,0.4545)" font-family='"Liberation Sans", sans-serif' font-weight="normal" font-style="normal" font-size="100" fill="#000">mass</text>
<text transform="translate(61.12,964.05) rotate(-90) scale(0.4644,0.4564)" font-family='"Liberation Sans", sans-serif' font-weight="normal" font-style="normal" font-size="100" fill="#000">[kDa]</text>
<text transform="translate(856.58,1137.05) rotate(-90) scale(0.4743,0.5239)" font-family='"Liberation Serif", serif' font-weight="normal" font-style="italic" font-size="100" fill="#000" stroke="#000" stroke-width="2.2" stroke-linejoin="round">N</text>
<text transform="translate(845.62,1097.79) rotate(-90) scale(0.3375,0.3972)" font-family='"Liberation Serif", serif' font-weight="normal" font-style="normal" font-size="100" fill="#000">*</text>
<line x1="1072.50" y1="869.80" x2="1072.50" y2="1354.20" stroke="#000" stroke-width="2.2" />
<line x1="1071.50" y1="1353.20" x2="1634.60" y2="1353.20" stroke="#000" stroke-width="2.2" />
<line x1="1633.60" y1="869.50" x2="1633.60" y2="1354.20" stroke="#000" stroke-width="2.2" />
<line x1="1072.50" y1="1353.20" x2="1072.50" y2="1346.20" stroke="#000" stroke-width="1.9" />
<text transform="translate(1071.90,1402.50) scale(1.0,1.05)" text-anchor="middle" font-family='"Liberation Sans", sans-serif' font-weight="bold" font-size="35.9" fill="#262626">0</text>
<line x1="1259.53" y1="1353.20" x2="1259.53" y2="1346.20" stroke="#000" stroke-width="1.9" />
<text transform="translate(1258.93,1402.50) scale(1.0,1.05)" text-anchor="middle" font-family='"Liberation Sans", sans-serif' font-weight="bold" font-size="35.9" fill="#262626">100</text>
<line x1="1446.57" y1="1353.20" x2="1446.57" y2="1346.20" stroke="#000" stroke-width="1.9" />
<text transform="translate(1445.97,1402.50) scale(1.0,1.05)" text-anchor="middle" font-family='"Liberation Sans", sans-serif' font-weight="bold" font-size="35.9" fill="#262626">200</text>
<line x1="1633.60" y1="1353.20" x2="1633.60" y2="1346.20" stroke="#000" stroke-width="1.9" />
<text transform="translate(1633.00,1402.50) scale(1.0,1.05)" text-anchor="middle" font-family='"Liberation Sans", sans-serif' font-weight="bold" font-size="35.9" fill="#262626">300</text>
<line x1="1072.50" y1="1353.20" x2="1079.50" y2="1353.20" stroke="#000" stroke-width="1.9" />
<text transform="translate(1060.80,1368.10) scale(1.0,1.05)" text-anchor="end" font-family='"Liberation Sans", sans-serif' font-weight="bold" font-size="35.9" fill="#000">0</text>
<line x1="1072.50" y1="1232.60" x2="1079.50" y2="1232.60" stroke="#000" stroke-width="1.9" />
<text transform="translate(1060.80,1247.50) scale(1.0,1.05)" text-anchor="end" font-family='"Liberation Sans", sans-serif' font-weight="bold" font-size="35.9" fill="#000">500</text>
<line x1="1072.50" y1="1112.00" x2="1079.50" y2="1112.00" stroke="#000" stroke-width="1.9" />
<text transform="translate(1060.80,1126.90) scale(1.0,1.05)" text-anchor="end" font-family='"Liberation Sans", sans-serif' font-weight="bold" font-size="35.9" fill="#000">1000</text>
<line x1="1072.50" y1="991.40" x2="1079.50" y2="991.40" stroke="#000" stroke-width="1.9" />
<text transform="translate(1060.80,1006.30) scale(1.0,1.05)" text-anchor="end" font-family='"Liberation Sans", sans-serif' font-weight="bold" font-size="35.9" fill="#000">1500</text>
<line x1="1072.50" y1="870.80" x2="1079.50" y2="870.80" stroke="#000" stroke-width="1.9" />
<text transform="translate(1060.80,885.70) scale(1.0,1.05)" text-anchor="end" font-family='"Liberation Sans", sans-serif' font-weight="bold" font-size="35.9" fill="#000">2000</text>
<line x1="1633.60" y1="1353.20" x2="1626.60" y2="1353.20" stroke="#000" stroke-width="1.9" />
<text transform="translate(1644.40,1368.10) scale(1.0,1.05)" text-anchor="start" font-family='"Liberation Sans", sans-serif' font-weight="bold" font-size="35.9" fill="#000">0</text>
<line x1="1633.60" y1="1248.55" x2="1626.60" y2="1248.55" stroke="#000" stroke-width="1.9" />
<text transform="translate(1644.40,1263.45) scale(1.0,1.05)" text-anchor="start" font-family='"Liberation Sans", sans-serif' font-weight="bold" font-size="35.9" fill="#000">30</text>
<line x1="1633.60" y1="1143.90" x2="1626.60" y2="1143.90" stroke="#000" stroke-width="1.9" />
<text transform="translate(1644.40,1158.80) scale(1.0,1.05)" text-anchor="start" font-family='"Liberation Sans", sans-serif' font-weight="bold" font-size="35.9" fill="#000">60</text>
<line x1="1633.60" y1="1039.25" x2="1626.60" y2="1039.25" stroke="#000" stroke-width="1.9" />
<text transform="translate(1644.40,1054.15) scale(1.0,1.05)" text-anchor="start" font-family='"Liberation Sans", sans-serif' font-weight="bold" font-size="35.9" fill="#000">90</text>
<line x1="1633.60" y1="934.60" x2="1626.60" y2="934.60" stroke="#000" stroke-width="1.9" />
<text transform="translate(1644.40,949.50) scale(1.0,1.05)" text-anchor="start" font-family='"Liberation Sans", sans-serif' font-weight="bold" font-size="35.9" fill="#000">120</text>
<circle cx="1090.95" cy="1301.20" r="8.7" fill="none" stroke="#ff0000" stroke-width="4.0"/>
<circle cx="1109.70" cy="1246.50" r="8.7" fill="none" stroke="#ff0000" stroke-width="4.0"/>
<circle cx="1128.60" cy="1260.30" r="8.7" fill="none" stroke="#ff0000" stroke-width="4.0"/>
<circle cx="1165.70" cy="1206.20" r="8.7" fill="none" stroke="#ff0000" stroke-width="4.0"/>
<rect x="1084.75" y="1292.60" width="12.4" height="4.2" fill="#ff0000"/>
<rect x="1084.75" y="1305.80" width="12.4" height="4.2" fill="#ff0000"/>
<rect x="1103.70" y="1217.60" width="12.4" height="4.2" fill="#ff0000"/>
<rect x="1103.70" y="1271.00" width="12.4" height="4.2" fill="#ff0000"/>
<rect x="1122.40" y="1253.10" width="12.4" height="4.2" fill="#ff0000"/>
<rect x="1122.40" y="1263.80" width="12.4" height="4.2" fill="#ff0000"/>
<rect x="1159.50" y="1166.30" width="12.4" height="4.2" fill="#ff0000"/>
<rect x="1159.50" y="1242.70" width="12.4" height="4.2" fill="#ff0000"/>
<circle cx="1259.30" cy="1257.20" r="8.7" fill="none" stroke="#0000ff" stroke-width="4.0"/>
<circle cx="1446.00" cy="1239.50" r="8.7" fill="none" stroke="#0000ff" stroke-width="4.0"/>
<circle cx="1539.40" cy="1196.95" r="8.7" fill="none" stroke="#0000ff" stroke-width="4.0"/>
<circle cx="1633.60" cy="995.70" r="8.7" fill="none" stroke="#0000ff" stroke-width="4.0"/>
<rect x="1253.30" y="1253.15" width="12.0" height="3.8" fill="#0000ff"/>
<rect x="1253.30" y="1257.60" width="12.0" height="3.8" fill="#0000ff"/>
<rect x="1440.00" y="1231.50" width="12.0" height="3.8" fill="#0000ff"/>
<rect x="1440.00" y="1243.70" width="12.0" height="3.8" fill="#0000ff"/>
<rect x="1533.40" y="1138.10" width="12.0" height="3.8" fill="#0000ff"/>
<rect x="1533.40" y="1251.90" width="12.0" height="3.8" fill="#0000ff"/>
<rect x="1627.60" y="921.40" width="12.0" height="3.8" fill="#0000ff"/>
<rect x="1627.60" y="1065.00" width="12.0" height="3.8" fill="#0000ff"/>
<path d="M1072.50,1353.20 L1165.00,1156.00" fill="none" stroke="#ff0000" stroke-width="3.9" stroke-dasharray="14.2 15.0" />
<path d="M1072.50,1353.20 L1633.60,1113.30" fill="none" stroke="#0000ff" stroke-width="4" stroke-dasharray="15.2 13.8" />
<text transform="translate(1192.72,1170.20) scale(0.3567)" font-family='"Liberation Sans", sans-serif' font-weight="normal" font-style="normal" font-size="100" fill="#ff0000">20% PEG</text>
<text transform="translate(1380.66,1285.20) scale(0.3594)" font-family='"Liberation Sans", sans-serif' font-weight="normal" font-style="normal" font-size="100" fill="#0000ff">5% PEG</text>
<text transform="translate(880.71,778.40) scale(0.3786,0.5229)" font-family='"Liberation Sans", sans-serif' font-weight="normal" font-style="normal" font-size="100" fill="#000" stroke="#000" stroke-width="1.8" stroke-linejoin="round">(</text>
<text transform="translate(897.74,779.48) scale(0.4656,0.5239)" font-family='"Liberation Sans", sans-serif' font-weight="normal" font-style="normal" font-size="100" fill="#000" stroke="#000" stroke-width="1.8" stroke-linejoin="round">D</text>
<text transform="translate(935.30,778.40) scale(0.3821,0.5229)" font-family='"Liberation Sans", sans-serif' font-weight="normal" font-style="normal" font-size="100" fill="#000" stroke="#000" stroke-width="1.8" stroke-linejoin="round">)</text>
<text transform="translate(1052.98,813.00) scale(0.4519)" font-family='"Liberation Sans", sans-serif' font-weight="normal" font-style="normal" font-size="100" fill="#000">Below the CAC - α-synuclein</text>
<text transform="translate(1281.71,1468.97) scale(0.4215,0.5114)" font-family='"Liberation Serif", serif' font-weight="normal" font-style="italic" font-size="100" fill="#000" stroke="#000" stroke-width="3.8" stroke-linejoin="round">C</text>
<text transform="translate(1326.65,1468.17) scale(0.4500,0.4585)" font-family='"Liberation Sans", sans-serif' font-weight="normal" font-style="normal" font-size="100" fill="#000">[</text>
<text transform="translate(1341.40,1469.16) scale(0.5143,0.4589)" font-family='"Liberation Sans", sans-serif' font-weight="normal" font-style="normal" font-size="100" fill="#000">µM</text>
<text transform="translate(1415.65,1468.17) scale(0.4500,0.4585)" font-family='"Liberation Sans", sans-serif' font-weight="normal" font-style="normal" font-size="100" fill="#000">]</text>
<text transform="translate(957.81,1360.22) rotate(-90) scale(0.4645,0.4932)" font-family='"Liberation Sans", sans-serif' font-weight="normal" font-style="normal" font-size="100" fill="#000">Cluster</text>
<text transform="translate(957.35,1202.62) rotate(-90) scale(0.4738,0.4545)" font-family='"Liberation Sans", sans-serif' font-weight="normal" font-style="normal" font-size="100" fill="#000">mean</text>
<text transform="translate(957.35,1070.98) rotate(-90) scale(0.4399,0.4545)" font-family='"Liberation Sans", sans-serif' font-weight="normal" font-style="normal" font-size="100" fill="#000">mass</text>
<text transform="translate(955.12,952.25) rotate(-90) scale(0.4644,0.4564)" font-family='"Liberation Sans", sans-serif' font-weight="normal" font-style="normal" font-size="100" fill="#000">[kDa]</text>
<text transform="translate(1733.67,1123.55) rotate(-90) scale(0.4757,0.5254)" font-family='"Liberation Serif", serif' font-weight="normal" font-style="italic" font-size="100" fill="#000" stroke="#000" stroke-width="2.2" stroke-linejoin="round">N</text>
<text transform="translate(1723.70,1084.30) rotate(-90) scale(0.3400,0.4139)" font-family='"Liberation Serif", serif' font-weight="normal" font-style="normal" font-size="100" fill="#000">*</text>
</svg>
</body></html>
